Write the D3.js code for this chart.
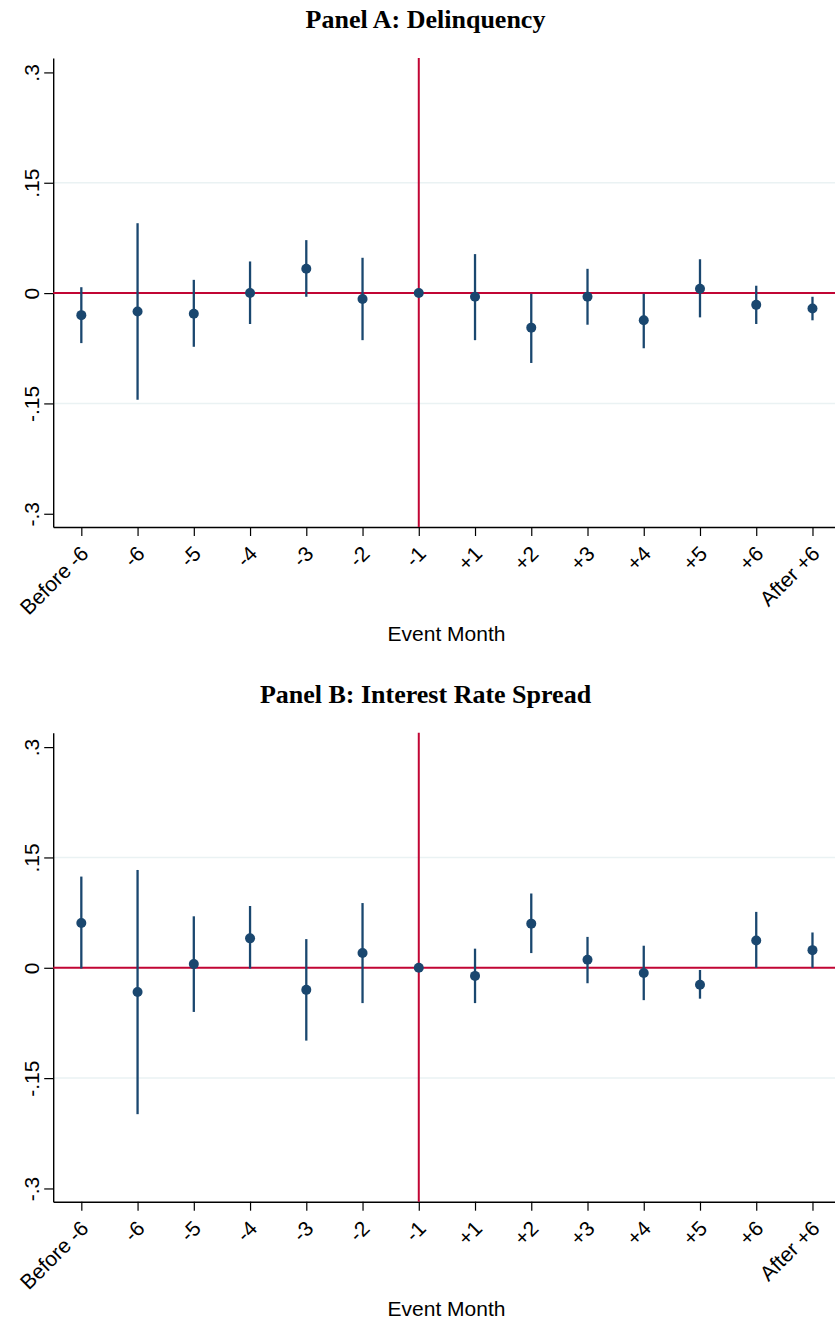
<!DOCTYPE html>
<html lang="en">
<head>
  <meta charset="UTF-8">
  <title>Event study: Delinquency and Interest Rate Spread</title>
  <script src="https://d3js.org/d3.v7.min.js"></script>
  <style>
    body { margin: 0; background: #fff; }
    svg { display: block; }
    .title { font-family: "Liberation Serif", "Times New Roman", serif; font-weight: bold; font-size: 26px; }
    .tick-label, .axis-title { font-family: "Liberation Sans", Arial, sans-serif; font-size: 21px; fill: #000; }
  </style>
</head>
<body>
  <svg id="chart" width="835" height="1321"></svg>

  <script>
    // x categories (event months)
    const months = ['Before -6', '-6', '-5', '-4', '-3', '-2', '-1', '+1', '+2', '+3', '+4', '+5', '+6', 'After +6'];

    // Panel A: Delinquency -- point estimates and 95% CI bounds
    const delinqEst = [-0.030, -0.025, -0.028, 0.000, 0.033, -0.008, 0, -0.005, -0.047, -0.005, -0.037, 0.006, -0.016, -0.021];
    const delinqLo  = [-0.068, -0.145, -0.073, -0.042, -0.005, -0.064, null, -0.064, -0.095, -0.043, -0.075, -0.033, -0.042, -0.037];
    const delinqHi  = [0.008, 0.095, 0.018, 0.043, 0.072, 0.048, null, 0.053, -0.001, 0.033, -0.001, 0.046, 0.010, -0.005];

    // Panel B: Interest Rate Spread
    const spreadEst = [0.061, -0.033, 0.005, 0.040, -0.030, 0.020, 0, -0.011, 0.060, 0.011, -0.007, -0.023, 0.037, 0.024];
    const spreadLo  = [-0.001, -0.199, -0.060, -0.001, -0.099, -0.048, null, -0.048, 0.020, -0.021, -0.044, -0.042, 0.000, 0.000];
    const spreadHi  = [0.124, 0.133, 0.070, 0.084, 0.039, 0.088, null, 0.026, 0.101, 0.042, 0.030, -0.003, 0.076, 0.048];

    const yTicks = [0.3, 0.15, 0, -0.15, -0.3];
    const yTickLabels = ['.3', '.15', '0', '-.15', '-.3'];

    const panels = [
      { title: 'Panel A: Delinquency', est: delinqEst, lo: delinqLo, hi: delinqHi, top: 0 },
      { title: 'Panel B: Interest Rate Spread', est: spreadEst, lo: spreadLo, hi: spreadHi, top: 674.7 }
    ];

    const navy = '#1a476f', red = '#c10534', grid = '#eaf2f3';
    const svg = d3.select('#chart');

    // shared scales (same layout in both panels)
    const x = d3.scaleLinear().domain([0.5, 14.5]).range([53.2, 840.6]);
    const y = d3.scaleLinear().domain([-0.318, 0.3196]).range([527, 58]);
    const refIdx = months.indexOf('-1') + 1;

    panels.forEach(p => {
      const g = svg.append('g').attr('transform', `translate(0,${p.top})`);

      g.append('text').attr('class', 'title')
        .attr('x', 425.5).attr('y', 28).attr('text-anchor', 'middle')
        .text(p.title);

      // grid lines
      g.selectAll('.grid').data([0.15, -0.15]).enter().append('line')
        .attr('x1', x(0.5)).attr('x2', x(14.5))
        .attr('y1', d => y(d)).attr('y2', d => y(d))
        .attr('stroke', grid).attr('stroke-width', 1.5);

      // y axis
      const yAxis = g.append('g').attr('transform', `translate(${x(0.5)},0)`)
        .call(d3.axisLeft(y).tickValues(yTicks).tickSizeInner(9).tickSizeOuter(0)
          .tickFormat((d, i) => yTickLabels[i]));
      yAxis.select('.domain').attr('stroke', '#000').attr('stroke-width', 1.4);
      yAxis.selectAll('.tick line').attr('stroke', '#000').attr('stroke-width', 1.2);
      yAxis.selectAll('.tick text')
        .attr('class', 'tick-label')
        .attr('x', null).attr('dy', null)
        .attr('text-anchor', 'middle')
        .attr('font-size', null).attr('font-family', null)
        .attr('transform', 'translate(-14,0) rotate(-90)');

      // x axis
      const xAxis = g.append('g').attr('transform', `translate(0,${y.range()[0]})`)
        .call(d3.axisBottom(x).tickValues(d3.range(1, 15)).tickSizeInner(9).tickSizeOuter(0)
          .tickFormat(d => months[d - 1]));
      xAxis.select('.domain').attr('stroke', '#000').attr('stroke-width', 1.4);
      xAxis.selectAll('.tick line').attr('stroke', '#000').attr('stroke-width', 1.2);
      xAxis.selectAll('.tick text')
        .attr('class', 'tick-label')
        .attr('y', null).attr('dy', null)
        .attr('text-anchor', 'end')
        .attr('font-size', null).attr('font-family', null)
        .attr('transform', 'translate(8,28) rotate(-45)');

      g.append('text').attr('class', 'axis-title')
        .attr('x', 446.5).attr('y', 641).attr('text-anchor', 'middle')
        .text('Event Month');

      // reference lines
      g.append('line')
        .attr('x1', x(0.5)).attr('x2', x(14.5)).attr('y1', y(0)).attr('y2', y(0))
        .attr('stroke', red).attr('stroke-width', 2);
      g.append('line')
        .attr('x1', x(refIdx)).attr('x2', x(refIdx)).attr('y1', y.range()[1]).attr('y2', y.range()[0])
        .attr('stroke', red).attr('stroke-width', 2);

      const rows = months.map((m, i) => ({ i: i + 1, est: p.est[i], lo: p.lo[i], hi: p.hi[i] }));

      // confidence intervals
      g.selectAll('.ci').data(rows.filter(d => d.lo != null)).enter().append('line')
        .attr('x1', d => x(d.i)).attr('x2', d => x(d.i))
        .attr('y1', d => y(d.lo)).attr('y2', d => y(d.hi))
        .attr('stroke', navy).attr('stroke-width', 2.3);

      // point estimates
      g.selectAll('.pt').data(rows).enter().append('circle')
        .attr('cx', d => x(d.i)).attr('cy', d => y(d.est)).attr('r', 5)
        .attr('fill', navy);
    });
  </script>
</body>
</html>
